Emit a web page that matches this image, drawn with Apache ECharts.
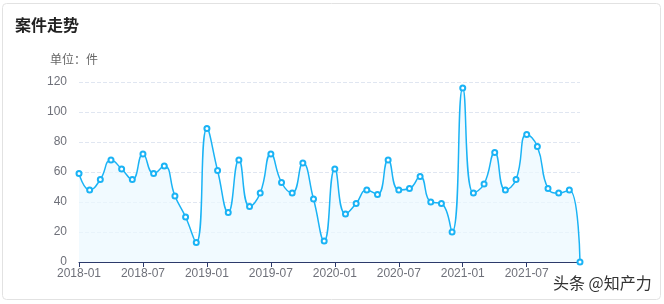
<!DOCTYPE html>
<html><head><meta charset="utf-8">
<script src="https://cdn.jsdelivr.net/npm/echarts@6/dist/echarts.min.js"></script>
<style>html,body{margin:0;padding:0;background:#fff}#c{width:664px;height:304px}</style>
</head><body><div id="c"></div>
<script>
const months = [];
for (let y = 2018; y <= 2021; y++) for (let m = 1; m <= 12; m++) months.push(y + '-' + (m < 10 ? '0' + m : m));
const cases = [59,48,55,68,62,55,72,59,64,44,30,13,
               89,61,33,68,37,46,72,53,46,66,42,14,
               62,32,39,48,45,68,48,49,57,40,39,20,
               116,46,52,73,48,55,85,77,49,46,48,0];
const yTicks = [0,20,40,60,80,100,120];

const chart = echarts.init(document.getElementById('c'));
chart.setOption({
  animation: false,
  title: { text: '案件走势', left: 10, top: 12, textStyle: { fontSize: 16, fontWeight: 'bold', color: '#222', fontFamily: 'Noto Sans CJK SC' } },
  graphic: [
    { type: 'rect', left: 0, top: 1, shape: { width: 658, height: 296, r: 4 }, style: { fill: 'none', stroke: '#e2e2e2', lineWidth: 1 }, z: -1 },
    { type: 'text', left: 50, top: 53, style: { text: '单位：件', fill: '#666', font: '12px "Noto Sans CJK SC"' } },
    { type: 'text', left: 553, top: 275, style: { text: '头条 @知产力', fill: '#333', font: '16px "Noto Sans CJK SC"' } }
  ],
  grid: { left: 79, right: 84, top: 82, bottom: 42 },
  xAxis: {
    type: 'category', data: months, boundaryGap: false,
    axisLine: { lineStyle: { color: '#2c3a6b' } },
    axisTick: { interval: 5, lineStyle: { color: '#2c3a6b' } },
    axisLabel: { interval: 5, color: '#6e7079', fontSize: 12, margin: 6 }
  },
  yAxis: {
    type: 'value', min: yTicks[0], max: yTicks[yTicks.length - 1], interval: 20,
    axisLine: { show: false }, axisTick: { show: false },
    axisLabel: { color: '#6e7079', fontSize: 12, margin: 12 },
    splitLine: { lineStyle: { type: 'dashed', color: '#e0e6f1' } }
  },
  series: [{
    type: 'line', data: cases, smooth: true,
    symbol: 'emptyCircle', symbolSize: 5, showAllSymbol: true,
    lineStyle: { color: '#1ab3f5', width: 1.5 },
    itemStyle: { color: '#1ab3f5', borderWidth: 1.5 },
    areaStyle: { color: '#ebf8ff' }
  }]
});
</script></body></html>
